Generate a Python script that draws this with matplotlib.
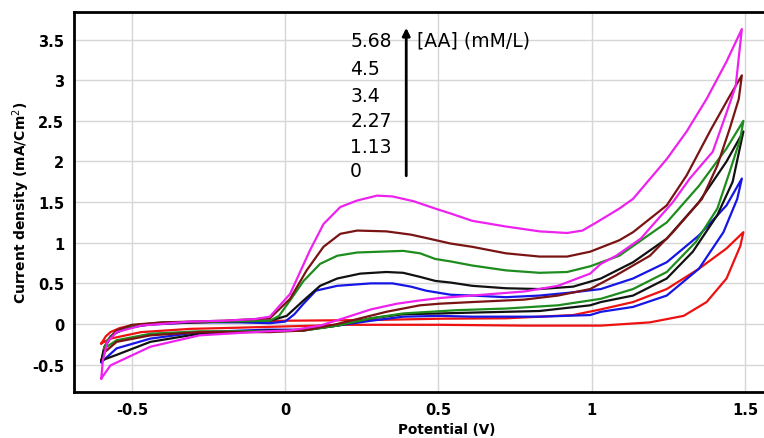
import matplotlib
matplotlib.use("Agg")
import matplotlib.pyplot as plt

# concentrations of ascorbic acid (mM/L), from bottom to top
concentrations = ["0", "1.13", "2.27", "3.4", "4.5", "5.68"]
colors = ["#ee1111", "#1515e6", "#111111", "#1e8c1e", "#7a1414", "#ee22ee"]

# each voltammogram: forward scan (-0.6 -> 1.5 V) then reverse scan back to -0.6 V
red_e = [-0.6, -0.585, -0.57, -0.54, -0.505, -0.45, -0.365, -0.2, 0.0, 0.3, 0.505, 0.72, 0.94, 1.03,
         1.135, 1.245, 1.35, 1.44, 1.495,
         1.485, 1.44, 1.375, 1.30, 1.19, 1.03, 0.78, 0.505, 0.2, 0.0, -0.2, -0.31, -0.47, -0.57, -0.6]
red_j = [-0.24, -0.15, -0.1, -0.05, -0.02, 0.0, 0.01, 0.03, 0.04, 0.05, 0.065, 0.07, 0.11, 0.18,
         0.27, 0.43, 0.68, 0.93, 1.13,
         0.96, 0.56, 0.27, 0.10, 0.02, -0.02, -0.02, -0.01, -0.01, -0.03, -0.05, -0.06, -0.1, -0.18, -0.24]

blue_e = [-0.6, -0.59, -0.57, -0.53, -0.45, -0.3, -0.15, -0.05, 0.0, 0.03, 0.06, 0.10, 0.17, 0.28,
          0.35, 0.41, 0.46, 0.54, 0.61, 0.72, 0.83, 0.94, 1.03, 1.135, 1.245, 1.35, 1.44, 1.49,
          1.475, 1.43, 1.35, 1.245, 1.135, 1.03, 0.995, 0.83, 0.61, 0.505, 0.385, 0.28, 0.17, 0.06,
          -0.06, -0.28, -0.44, -0.55, -0.6]
blue_j = [-0.47, -0.3, -0.15, -0.06, -0.01, 0.02, 0.02, 0.01, 0.03, 0.12, 0.25, 0.41, 0.47, 0.50,
          0.50, 0.46, 0.41, 0.36, 0.35, 0.33, 0.35, 0.39, 0.43, 0.56, 0.76, 1.09, 1.46, 1.79,
          1.54, 1.13, 0.68, 0.35, 0.21, 0.15, 0.11, 0.09, 0.09, 0.10, 0.09, 0.04, -0.02, -0.07,
          -0.07, -0.1, -0.18, -0.3, -0.47]

black_e = [-0.6, -0.59, -0.56, -0.5, -0.4, -0.2, -0.05, 0.005, 0.06, 0.114, 0.17, 0.245, 0.33,
           0.385, 0.44, 0.49, 0.54, 0.61, 0.72, 0.83, 0.94, 1.03, 1.135, 1.245, 1.35, 1.44, 1.495,
           1.46, 1.41, 1.33, 1.245, 1.135, 1.03, 0.995, 0.83, 0.61, 0.505, 0.385, 0.28, 0.17, 0.06,
           -0.06, -0.28, -0.44, -0.55, -0.6]
black_j = [-0.45, -0.28, -0.12, -0.03, 0.01, 0.03, 0.04, 0.1, 0.29, 0.47, 0.56, 0.62, 0.64,
           0.63, 0.58, 0.53, 0.51, 0.47, 0.44, 0.43, 0.46, 0.56, 0.76, 1.05, 1.5, 2.0, 2.37,
           1.75, 1.34, 0.89, 0.56, 0.35, 0.27, 0.23, 0.16, 0.14, 0.13, 0.12, 0.07, -0.02, -0.08,
           -0.08, -0.12, -0.22, -0.38, -0.45]

green_e = [-0.59, -0.58, -0.55, -0.5, -0.4, -0.2, -0.05, -0.02, 0.016, 0.06, 0.114, 0.17, 0.235,
           0.31, 0.385, 0.44, 0.49, 0.54, 0.61, 0.72, 0.83, 0.92, 0.995, 1.09, 1.135, 1.245, 1.35,
           1.44, 1.495,
           1.485, 1.45, 1.41, 1.34, 1.245, 1.135, 1.03, 0.89, 0.72, 0.56, 0.385, 0.28, 0.17, 0.06,
           -0.06, -0.28, -0.44, -0.55, -0.59]
green_j = [-0.3, -0.2, -0.08, -0.02, 0.02, 0.03, 0.04, 0.1, 0.29, 0.53, 0.74, 0.84, 0.88,
           0.89, 0.9, 0.87, 0.80, 0.77, 0.72, 0.66, 0.63, 0.64, 0.71, 0.84, 0.96, 1.25, 1.7,
           2.16, 2.5,
           2.28, 1.87, 1.42, 1.01, 0.64, 0.43, 0.31, 0.23, 0.19, 0.17, 0.13, 0.07, -0.02, -0.08,
           -0.09, -0.09, -0.12, -0.2, -0.3]

brown_e = [-0.59, -0.58, -0.55, -0.5, -0.4, -0.2, -0.05, 0.016, 0.07, 0.125, 0.18, 0.235, 0.33,
           0.41, 0.47, 0.54, 0.61, 0.72, 0.83, 0.92, 0.995, 1.09, 1.135, 1.245, 1.31, 1.39, 1.445,
           1.49,
           1.48, 1.45, 1.41, 1.36, 1.265, 1.19, 1.08, 0.995, 0.89, 0.78, 0.61, 0.505, 0.44, 0.33,
           0.245, 0.17, 0.06, -0.05, -0.28, -0.44, -0.55, -0.59]
brown_j = [-0.35, -0.22, -0.08, -0.01, 0.02, 0.04, 0.07, 0.31, 0.66, 0.95, 1.11, 1.15, 1.14,
           1.10, 1.05, 0.99, 0.95, 0.87, 0.83, 0.83, 0.89, 1.03, 1.13, 1.46, 1.83, 2.4, 2.77,
           3.06,
           2.77, 2.4, 1.95, 1.54, 1.13, 0.84, 0.6, 0.43, 0.35, 0.30, 0.27, 0.25, 0.23, 0.15,
           0.07, 0.0, -0.08, -0.1, -0.1, -0.14, -0.22, -0.35]

pink_e = [-0.6, -0.595, -0.58, -0.55, -0.47, -0.31, -0.2, -0.1, -0.05, 0.016, 0.08, 0.125, 0.18,
          0.235, 0.30, 0.35, 0.42, 0.49, 0.54, 0.61, 0.72, 0.83, 0.92, 0.97, 1.02, 1.09, 1.135,
          1.245, 1.31, 1.375, 1.44, 1.49,
          1.47, 1.44, 1.395, 1.32, 1.265, 1.16, 1.08, 1.03, 0.995, 0.89, 0.78, 0.61, 0.505, 0.44,
          0.365, 0.28, 0.19, 0.114, 0.016, -0.06, -0.28, -0.44, -0.57, -0.6]
pink_j = [-0.67, -0.45, -0.22, -0.1, -0.02, 0.03, 0.04, 0.06, 0.09, 0.37, 0.9, 1.23, 1.44,
          1.52, 1.58, 1.57, 1.51, 1.42, 1.36, 1.27, 1.20, 1.14, 1.12, 1.15, 1.26, 1.42, 1.54,
          2.03, 2.37, 2.77, 3.23, 3.63,
          2.93, 2.6, 2.12, 1.79, 1.5, 1.05, 0.84, 0.74, 0.62, 0.47, 0.40, 0.35, 0.32, 0.29,
          0.25, 0.18, 0.07, -0.02, -0.08, -0.09, -0.14, -0.28, -0.51, -0.67]

potentials = [red_e, blue_e, black_e, green_e, brown_e, pink_e]
currents = [red_j, blue_j, black_j, green_j, brown_j, pink_j]

x_ticks = [-0.5, 0, 0.5, 1, 1.5]
x_tick_labels = ["-0.5", "0", "0.5", "1", "1.5"]
y_ticks = [-0.5, 0, 0.5, 1, 1.5, 2, 2.5, 3, 3.5]
y_tick_labels = ["-0.5", "0", "0.5", "1", "1.5", "2", "2.5", "3", "3.5"]

fig = plt.figure(figsize=(7.64, 4.39), dpi=100)
# the original figure is cropped on the right, so the axes run past the edge
ax = fig.add_axes([74 / 764, 46 / 439, 746 / 764, 380 / 439])

for e, j, c in zip(potentials, currents, colors):
    ax.plot(e, j, color=c, lw=1.6)

ax.set_xlim(-0.689, 1.745)
ax.set_ylim(-0.837, 3.84)
ax.set_xticks(x_ticks)
ax.set_xticklabels(x_tick_labels, fontweight="bold", fontsize=10.5)
ax.set_yticks(y_ticks)
ax.set_yticklabels(y_tick_labels, fontweight="bold", fontsize=10.5)
ax.tick_params(length=0, pad=7)
ax.grid(color="#d6d6d6", lw=1)
ax.set_axisbelow(True)
for side in ["top", "left", "bottom", "right"]:
    ax.spines[side].set_linewidth(2)

ax.set_xlabel("Potential (V)", fontweight="bold", fontsize=9.8, labelpad=4)
ax.set_ylabel("Current density (mA/Cm$^2$)", fontweight="bold", fontsize=10, labelpad=0)

# concentration labels and arrow
label_y = [1.89, 2.19, 2.50, 2.81, 3.14, 3.49]
for name, yy in zip(concentrations, label_y):
    ax.text(0.212, yy, name, fontsize=13.5, va="center", ha="left")
ax.text(0.43, 3.49, "[AA] (mM/L)", fontsize=13.5, va="center", ha="left")
ax.annotate("", xy=(0.395, 3.68), xytext=(0.395, 1.79),
            arrowprops=dict(arrowstyle="-|>,head_width=0.22,head_length=0.45", color="black", lw=2))

fig.savefig("out.png", dpi=100)
